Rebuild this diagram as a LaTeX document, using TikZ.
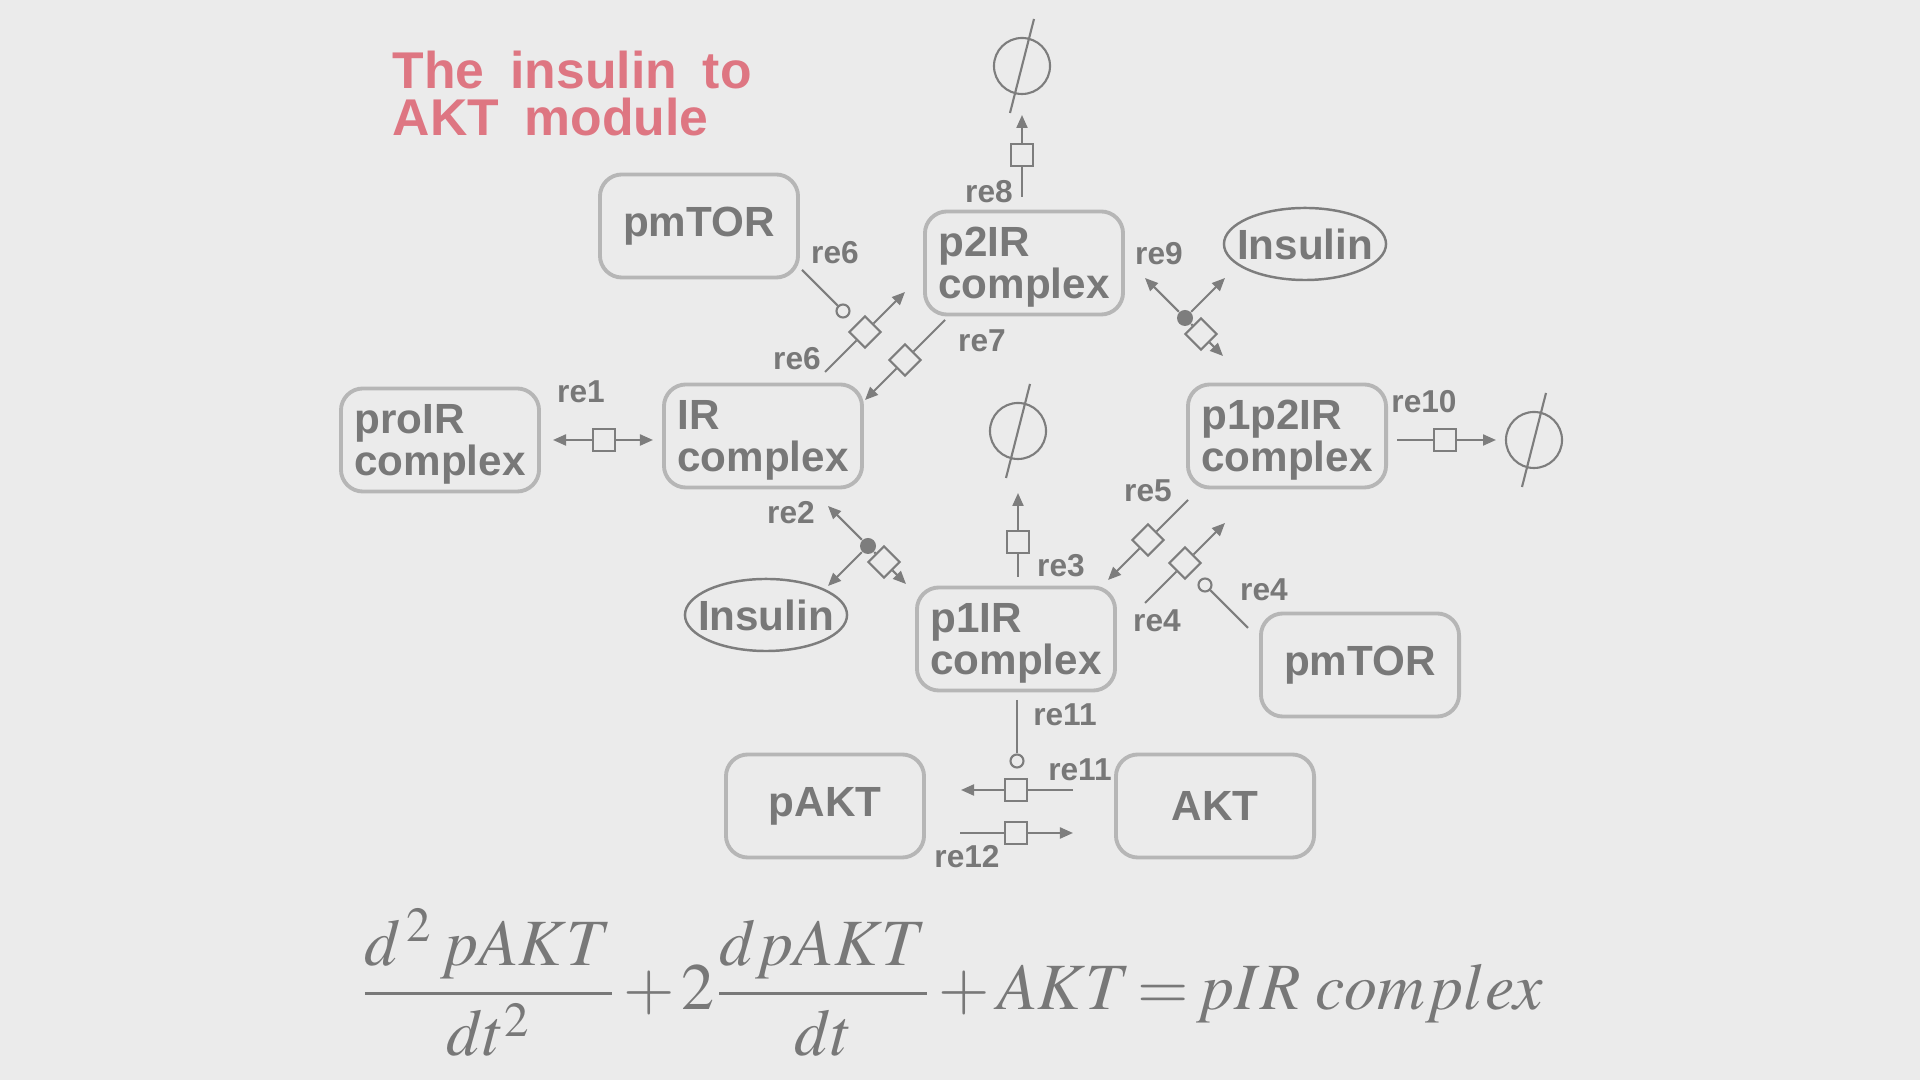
\documentclass[tikz,border=0pt]{standalone}
\usepackage{mathptmx}
\usepackage[no-math]{fontspec}
\setmainfont{Liberation Sans}
\usetikzlibrary{arrows.meta, shapes.geometric}
\definecolor{paper}{RGB}{235,235,235}
\definecolor{inkgray}{RGB}{120,120,120}
\definecolor{rimgray}{RGB}{182,182,182}
\definecolor{wiregray}{RGB}{125,125,125}
\definecolor{titlepink}{RGB}{222,118,130}
\tikzset{
  species/.style={draw=rimgray, line width=1.1pt, rounded corners=2.2mm,
    minimum width=1.98cm, minimum height=1.03cm, inner sep=0pt,
    text=inkgray, align=left, font=\fontsize{12}{12.1}\selectfont\bfseries},
  duo/.style={species, text depth=0pt},
  smallmol/.style={ellipse, draw=wiregray, line width=0.7pt,
    minimum width=1.62cm, minimum height=0.72cm,
    inner xsep=-1.1mm, inner ysep=-0.6mm,
    text=inkgray, font=\fontsize{12}{12}\selectfont\bfseries},
  procsq/.style={draw=wiregray, fill=paper, line width=0.6pt,
    minimum size=2.2mm, inner sep=0pt},
  procdia/.style={procsq, rotate=45},
  assoc/.style={circle, fill=wiregray, minimum size=1.6mm, inner sep=0pt},
  modcirc/.style={circle, draw=wiregray, fill=paper, line width=0.6pt,
    minimum size=1.3mm, inner sep=0pt},
  sink/.style={circle, draw=wiregray, line width=0.6pt,
    minimum size=5.6mm, inner sep=0pt},
  wire/.style={draw=wiregray, line width=0.6pt},
  conv/.style={wire, -{Triangle[length=1.3mm, width=1.1mm]}},
  relabel/.style={text=inkgray, inner sep=0pt,
    font=\fontsize{9}{9}\selectfont\bfseries},
  titletext/.style={text=titlepink, align=left, inner sep=0pt,
    font=\fontsize{14.7}{13.4}\selectfont\bfseries},
  eqtext/.style={text=inkgray, inner sep=0pt, font=\fontsize{18.8}{23}\selectfont}
}
\begin{document}
\begin{tikzpicture}[x=0.01cm, y=-0.01cm]
\useasboundingbox (0,0) rectangle (1920,1080);
\fill[paper] (0,0) rectangle (1920,1080);
% title
\node[titletext, anchor=north west] (title) at (392,50)
  {The\hspace{0.5em}insulin\hspace{0.5em}to\\AKT\hspace{0.5em}module};
% species
\node[species] (mtorA) at (699,226) {pmTOR};
\node[duo] (ptwo) at (1024,263) {p2IR\\complex};
\node[smallmol] (insA) at (1305,244) {Insulin};
\node[duo] (proir) at (440,440) {proIR\\complex};
\node[duo] (ir) at (763,436) {IR\\complex};
\node[duo] (ponetwo) at (1287,436) {p1p2IR\\complex};
\node[smallmol] (insB) at (766,615) {Insulin};
\node[duo] (pone) at (1016,639) {p1IR\\complex};
\node[species] (mtorB) at (1360,665) {pmTOR};
\node[species] (pakt) at (825,806) {pAKT};
\node[species] (akt) at (1215,806) {AKT};
% degradation sinks
\foreach \n/\x/\y in {sinkA/1022/66, sinkB/1018/431, sinkC/1534/440}{
  \node[sink] (\n) at (\x,\y) {};
  \draw[wire] (\n.center) ++(12,-47) -- ++(-24,94);
}
% re1
\coordinate (r1l) at (553,440);
\coordinate (r1r) at (653,440);
\node[procsq] (q1) at (604,440) {};
\draw[conv] (q1) -- (r1l);
\draw[conv] (q1) -- (r1r);
\node[relabel] (l1) at (581,392) {re1};
% re2
\node[assoc] (a2) at (868,546) {};
\coordinate (r2ir) at (828,506);
\coordinate (r2ins) at (828,586);
\node[procdia] (q2) at (884,562) {};
\coordinate (r2out) at (906,584);
\draw[conv] (a2) -- (r2ir);
\draw[conv] (a2) -- (r2ins);
\draw[wire] (a2) -- (q2);
\draw[conv] (q2) -- (r2out);
\node[relabel] (l2) at (791,513) {re2};
% re3
\coordinate (r3s) at (1018,577);
\node[procsq] (q3) at (1018,542) {};
\coordinate (r3t) at (1018,493);
\draw[wire] (r3s) -- (q3);
\draw[conv] (q3) -- (r3t);
\node[relabel] (l3) at (1061,566) {re3};
% re4
\coordinate (r4s) at (1145,603);
\node[procdia] (q4) at (1185,563) {};
\coordinate (r4t) at (1225,523);
\coordinate (r4m) at (1248,628);
\node[modcirc] (m4) at (1205,585) {};
\draw[wire] (r4s) -- (q4);
\draw[conv] (q4) -- (r4t);
\draw[wire] (r4m) -- (m4);
\node[relabel] (l4a) at (1264,590) {re4};
\node[relabel] (l4b) at (1157,621) {re4};
% re5
\coordinate (r5s) at (1188,500);
\node[procdia] (q5) at (1148,540) {};
\coordinate (r5t) at (1108,580);
\draw[wire] (r5s) -- (q5);
\draw[conv] (q5) -- (r5t);
\node[relabel] (l5) at (1148,491) {re5};
% re6
\coordinate (r6s) at (825,372);
\node[procdia] (q6) at (865,332) {};
\coordinate (r6t) at (905,292);
\coordinate (r6m) at (802,270);
\node[modcirc] (m6) at (843,311) {};
\draw[wire] (r6s) -- (q6);
\draw[conv] (q6) -- (r6t);
\draw[wire] (r6m) -- (m6);
\node[relabel] (l6a) at (835,253) {re6};
\node[relabel] (l6b) at (797,359) {re6};
% re7
\coordinate (r7s) at (945,320);
\node[procdia] (q7) at (905,360) {};
\coordinate (r7t) at (865,400);
\draw[wire] (r7s) -- (q7);
\draw[conv] (q7) -- (r7t);
\node[relabel] (l7) at (982,341) {re7};
% re8
\coordinate (r8s) at (1022,197);
\node[procsq] (q8) at (1022,155) {};
\coordinate (r8t) at (1022,115);
\draw[wire] (r8s) -- (q8);
\draw[conv] (q8) -- (r8t);
\node[relabel] (l8) at (989,192) {re8};
% re9
\node[assoc] (a9) at (1185,318) {};
\coordinate (r9p2) at (1145,278);
\coordinate (r9ins) at (1225,278);
\node[procdia] (q9) at (1201,334) {};
\coordinate (r9out) at (1223,356);
\draw[conv] (a9) -- (r9p2);
\draw[conv] (a9) -- (r9ins);
\draw[wire] (a9) -- (q9);
\draw[conv] (q9) -- (r9out);
\node[relabel] (l9) at (1159,254) {re9};
% re10
\coordinate (r10s) at (1397,440);
\node[procsq] (q10) at (1445,440) {};
\coordinate (r10t) at (1496,440);
\draw[wire] (r10s) -- (q10);
\draw[conv] (q10) -- (r10t);
\node[relabel] (l10) at (1424,402) {re10};
% re11
\coordinate (r11m) at (1017,700);
\node[modcirc] (m11) at (1017,761) {};
\coordinate (r11s) at (1073,790);
\node[procsq] (q11) at (1016,790) {};
\coordinate (r11t) at (961,790);
\draw[wire] (r11m) -- (m11);
\draw[wire] (r11s) -- (q11);
\draw[conv] (q11) -- (r11t);
\node[relabel] (l11a) at (1065,715) {re11};
\node[relabel] (l11b) at (1080,770) {re11};
% re12
\coordinate (r12s) at (960,833);
\node[procsq] (q12) at (1016,833) {};
\coordinate (r12t) at (1073,833);
\draw[wire] (r12s) -- (q12);
\draw[conv] (q12) -- (r12t);
\node[relabel] (l12) at (967,857) {re12};
% rate equation
\node[eqtext, anchor=base west] (ode) at (360,1010)
  {\medmuskip=2mu\thickmuskip=2mu%
   $\displaystyle\frac{d^{\,2}\,pAKT}{dt^{2}}+2\frac{dpAKT}{dt}+AKT=pIR\mkern4mu complex$};
\end{tikzpicture}
\end{document}
